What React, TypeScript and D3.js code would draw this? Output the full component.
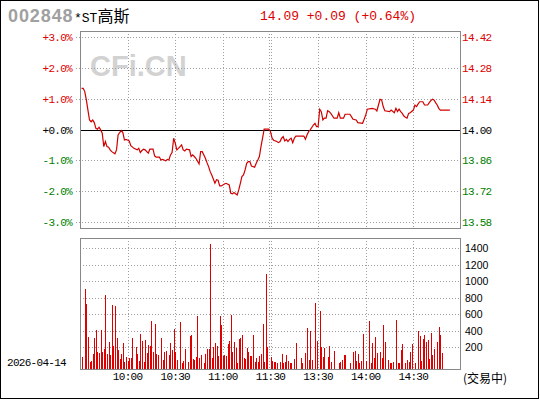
import React from 'react';
import * as d3 from 'd3';

const stockCode = '002848';
const stockName = '高斯';
const stockPrefix = '*ST';
const quoteText = '14.09 +0.09 (+0.64%)';
const dateLabel = '2026-04-14';
const statusLabel = '(交易中)';
const watermark = 'CFi.CN';
const prevClose = 14.0;

const pctTicks = [3, 2, 1, 0, -1, -2, -3];
const volTicks = [200, 400, 600, 800, 1000, 1200, 1400];
const timeTickMinutes = [30, 60, 90, 120, 150, 180, 210];
const timeTickLabels = ['10:00', '10:30', '11:00', '11:30', '13:30', '14:00', '14:30'];

const priceMinutes = [1,2,3,4,5,6,7,8,9,10,11,12,13,14,15,16,17,18,19,20,22,23,24,25,26,27,28,29,31,32,34,36,37,38,39,40,41,43,44,46,47,48,50,51,52,54,55,56,57,58,59,60,61,62,64,65,66,67,69,70,71,72,73,75,76,77,79,80,81,82,83,85,86,87,88,89,91,92,94,95,96,97,99,100,101,102,103,104,105,106,107,108,110,111,112,113,114,115,116,119,120,121,122,124,125,126,127,128,129,130,131,132,133,134,135,136,141,142,143,144,145,147,148,149,150,151,152,153,154,155,156,157,158,160,162,163,164,166,167,170,171,172,174,175,178,179,180,181,184,186,187,188,189,190,191,192,195,196,198,199,200,201,202,203,204,205,206,207,208,210,211,212,213,214,216,217,219,220,221,222,223,224,225,226,227,233];
const priceValues = [14.188,14.188,14.173,14.135,14.089,14.044,14.036,14.044,14.032,14.006,14.002,14.011,13.999,13.984,13.923,13.946,13.923,13.920,13.908,13.900,13.890,13.908,13.976,13.987,13.996,13.987,13.953,13.956,13.949,13.927,13.915,13.908,13.915,13.896,13.905,13.911,13.908,13.893,13.911,13.911,13.881,13.875,13.875,13.862,13.865,13.858,13.865,13.862,13.885,13.896,13.961,13.938,13.908,13.915,13.931,13.908,13.903,13.911,13.908,13.878,13.885,13.878,13.870,13.844,13.900,13.900,13.870,13.850,13.832,13.809,13.794,13.756,13.772,13.770,13.744,13.744,13.753,13.756,13.749,13.711,13.708,13.714,13.703,13.726,13.756,13.787,13.794,13.817,13.847,13.855,13.855,13.835,13.829,13.847,13.862,13.878,13.923,13.961,14.002,14.002,13.991,13.961,13.952,13.946,13.941,13.946,13.961,13.968,13.949,13.956,13.946,13.956,13.961,13.941,13.961,13.971,13.971,13.956,13.976,13.991,13.999,14.021,14.029,14.014,14.014,14.093,14.082,14.044,14.052,14.052,14.086,14.082,14.074,14.052,14.052,14.077,14.052,14.052,14.070,14.070,14.059,14.047,14.044,14.032,14.029,14.047,14.067,14.093,14.097,14.093,14.085,14.112,14.138,14.135,14.105,14.086,14.082,14.089,14.077,14.097,14.082,14.093,14.082,14.074,14.062,14.056,14.052,14.074,14.077,14.089,14.112,14.105,14.117,14.127,14.127,14.112,14.112,14.123,14.132,14.138,14.135,14.123,14.112,14.097,14.089,14.089];

const volMinutes = [1,3,4,5,6,7,8,9,10,11,12,13,14,15,16,17,18,19,20,21,22,23,24,25,26,27,28,29,30,31,32,33,35,36,37,38,39,40,41,42,43,44,45,46,47,48,49,51,52,53,54,56,57,58,59,60,61,63,64,65,66,68,69,70,71,72,73,74,75,76,78,79,80,81,82,83,84,85,86,87,88,89,90,91,92,93,94,95,96,97,98,99,100,101,102,103,104,105,106,107,108,109,110,111,112,113,114,115,116,117,118,120,121,122,123,124,126,127,128,129,130,131,132,133,135,136,139,140,142,143,144,145,146,148,149,151,152,153,154,156,157,158,160,163,164,165,166,167,170,172,173,174,175,176,177,178,180,182,183,184,185,186,187,189,190,191,192,194,195,196,197,199,200,201,202,203,205,206,207,208,209,211,213,214,215,216,217,218,219,220,221,222,223,225,226,227,228];
const volValues = [74,906,718,322,22,30,115,310,407,143,127,407,143,176,833,115,261,103,711,216,699,310,164,54,115,249,17,78,34,66,66,310,196,119,34,358,273,17,285,127,225,212,517,139,480,115,103,310,42,139,151,103,249,164,419,139,42,504,5,30,176,17,334,346,50,42,78,577,66,103,5,115,176,176,1454,66,200,249,212,91,577,468,91,103,91,237,273,590,139,261,188,5,297,310,346,66,54,188,139,91,91,346,17,66,17,91,115,480,17,1088,200,78,30,17,17,5,17,115,5,17,103,30,5,5,54,249,66,5,127,431,42,395,42,735,273,638,200,78,188,78,212,17,151,5,17,42,103,103,5,139,151,30,115,5,30,358,34,517,5,249,66,322,127,139,66,468,261,42,5,5,17,529,5,5,164,237,5,42,17,139,237,5,395,334,30,297,346,261,285,54,371,103,176,261,443,346,127];

const RED = '#dd0000';
const GREEN = '#008000';
const GRID = '#a0a0a0';
const BOX = '#888888';
const MONO = '"Liberation Mono", "DejaVu Sans Mono", monospace';

export default function App() {
  const left = 80, right = 461;
  const pTop = 31, pBot = 228;
  const vTop = 238, vBot = 369;

  const x = d3.scaleLinear().domain([0, 240]).range([left, right]);
  const yP = d3.scaleLinear().domain([prevClose * 0.97, prevClose * 1.03]).range([222, 37.3]);
  const yV = d3.scaleLinear().domain([0, 1400]).range([363.4, 248.3]);

  const pricePts = priceMinutes.map((m, i) => [m, priceValues[i]] as [number, number]);
  const line = d3.line<[number, number]>().x(d => x(d[0])).y(d => yP(d[1]));

  const px = (v: number) => Math.round(v) + 0.5;

  const vLines: number[] = [];
  timeTickMinutes.forEach(m => {
    if (m === 120) { vLines.push(Math.round(x(m)) - 1.5, Math.round(x(m)) + 0.5); }
    else vLines.push(px(x(m)));
  });

  const pctLabel = (p: number) => (p >= 0 ? '+' : '-') + Math.abs(p).toFixed(1) + '%';
  const colorOf = (p: number) => (p > 0 ? RED : p < 0 ? GREEN : '#000');

  return (
    <svg width={540} height={400} style={{ position: 'absolute', left: 0, top: 0, background: '#fff' }}>
      <rect x={0} y={0} width={540} height={400} fill="#fff" />
      <rect x={0.5} y={0.5} width={538} height={398} fill="none" stroke="#000" strokeWidth={1} shapeRendering="crispEdges" />

      {/* title */}
      <text x={8} y={22} fontFamily='"Liberation Sans", Arial, sans-serif' fontWeight="bold" fontSize={18} letterSpacing={0.9} fill="#a0a0a0">{stockCode}</text>
      <text x={74} y={22} fill="#000">
        <tspan fontFamily={MONO} fontSize={13}>{stockPrefix}</tspan>
        <tspan fontFamily='"Noto Sans CJK SC", sans-serif' fontSize={16}>{stockName}</tspan>
      </text>
      <text x={260} y={20} fontFamily={MONO} fontSize={13} fill={RED}>{quoteText}</text>

      {/* watermark */}
      <text x={90} y={76} fontFamily='"Liberation Sans", Arial, sans-serif' fontWeight="bold" fontSize={29} fill="#d2d2d2">{watermark}</text>

      {/* price panel grid */}
      <g shapeRendering="crispEdges">
        {pctTicks.filter(p => p !== 0).map(p => (
          <line key={'hp' + p} x1={76} x2={right} y1={px(yP(prevClose * (1 + p / 100)))} y2={px(yP(prevClose * (1 + p / 100)))} stroke={GRID} strokeDasharray="1,2" />
        ))}
        {vLines.map((vx, i) => (
          <line key={'vp' + i} x1={vx} x2={vx} y1={pTop} y2={pBot} stroke={GRID} strokeDasharray="1,2" />
        ))}
        {volTicks.map(v => (
          <line key={'hv' + v} x1={left} x2={right} y1={px(yV(v))} y2={px(yV(v))} stroke={GRID} strokeDasharray="1,2" />
        ))}
        {vLines.map((vx, i) => (
          <line key={'vv' + i} x1={vx} x2={vx} y1={vTop} y2={vBot} stroke={GRID} strokeDasharray="1,2" />
        ))}
      </g>

      {/* volume bars */}
      <g shapeRendering="crispEdges">
        {volMinutes.map((m, i) => (
          <rect key={'b' + m} x={Math.round(x(m)) - 0.5} y={Math.min(yV(volValues[i]), vBot - 1)} width={1.5} height={vBot - Math.min(yV(volValues[i]), vBot - 1)} fill={RED} />
        ))}
      </g>

      {/* zero line */}
      <line x1={left} x2={right} y1={px(yP(prevClose))} y2={px(yP(prevClose))} stroke="#000" strokeWidth={1} shapeRendering="crispEdges" />

      {/* price line */}
      <path d={line(pricePts) || ''} fill="none" stroke="#d00000" strokeWidth={1.2} />

      {/* boxes */}
      <rect x={left + 0.5} y={pTop + 0.5} width={right - left - 1} height={pBot - pTop} fill="none" stroke={BOX} shapeRendering="crispEdges" />
      <rect x={left + 0.5} y={vTop + 0.5} width={right - left - 1} height={vBot - vTop} fill="none" stroke={BOX} shapeRendering="crispEdges" />

      {/* left axis labels */}
      {pctTicks.map(p => (
        <text key={'lp' + p} x={72} y={yP(prevClose * (1 + p / 100)) + 4} textAnchor="end" fontFamily={MONO} fontSize={11} letterSpacing={-0.7} fill={colorOf(p)}>{pctLabel(p)}</text>
      ))}
      {/* right axis labels */}
      {pctTicks.map(p => (
        <text key={'rp' + p} x={462} y={yP(prevClose * (1 + p / 100)) + 4} fontFamily={MONO} fontSize={11} letterSpacing={-0.7} fill={colorOf(p)}>{(prevClose * (1 + p / 100)).toFixed(2)}</text>
      ))}
      {/* volume labels */}
      {volTicks.map(v => (
        <text key={'vl' + v} x={465} y={yV(v) + 4} fontFamily='"Liberation Sans", Arial, sans-serif' fontSize={10.5} fill="#000">{v}</text>
      ))}
      {/* time labels */}
      {timeTickMinutes.map((m, i) => (
        <text key={'tl' + m} x={x(m)} y={380} textAnchor="middle" fontFamily={MONO} fontSize={11} letterSpacing={-0.7} fill="#000">{timeTickLabels[i]}</text>
      ))}
      <text x={7} y={366} fontFamily={MONO} fontSize={11} letterSpacing={-0.7} fill="#000">{dateLabel}</text>
      <text x={463} y={383} fontFamily='"Noto Sans CJK SC", sans-serif' fontSize={12} fill="#000">{statusLabel}</text>
    </svg>
  );
}
